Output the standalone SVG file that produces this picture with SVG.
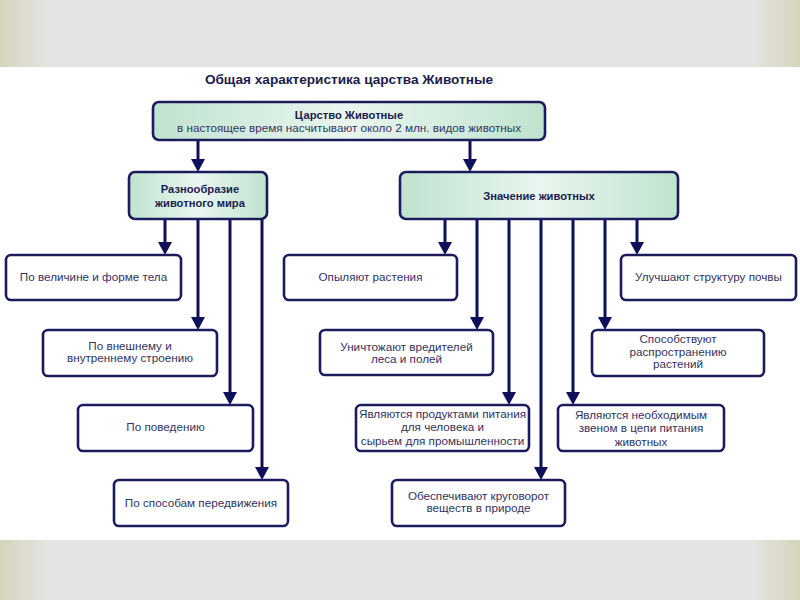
<svg xmlns="http://www.w3.org/2000/svg" width="800" height="600" viewBox="0 0 800 600">
<defs>
<linearGradient id="bg" x1="0" y1="0" x2="1" y2="0">
<stop offset="0" stop-color="#d6d4bd"/>
<stop offset="0.06" stop-color="#e4e4e2"/>
<stop offset="0.94" stop-color="#e4e4e2"/>
<stop offset="1" stop-color="#d6d4bd"/>
</linearGradient>
<linearGradient id="green" x1="0" y1="0" x2="1" y2="0">
<stop offset="0" stop-color="#bfe3cf"/>
<stop offset="0.5" stop-color="#e9f6ef"/>
<stop offset="1" stop-color="#bfe3cf"/>
</linearGradient>
<marker id="arr" viewBox="0 0 13 14" refX="2" refY="7" markerWidth="13" markerHeight="14" markerUnits="userSpaceOnUse" orient="auto">
<path d="M0,0 L13,7 L0,14 z" fill="#10105a"/>
</marker>
<style>
.box{fill:#ffffff;stroke:#1c1c5c;stroke-width:2.6}
.gbox{fill:url(#green);stroke:#1c1c5c;stroke-width:2.6}
.t{font-family:"Liberation Sans",Arial,sans-serif;font-size:11.7px;fill:#33335f;text-anchor:middle}
.b{font-weight:bold;fill:#1c1c4e;font-size:11.2px}
.c line{stroke:#10105a;stroke-width:3}
.c line.a{marker-end:url(#arr)}
</style>
</defs>
<rect x="0" y="0" width="800" height="600" fill="#ffffff"/>
<rect x="0" y="0" width="800" height="67" fill="url(#bg)"/>
<rect x="0" y="540" width="800" height="60" fill="url(#bg)"/>

<text id="title" x="349" y="84" class="t b" style="font-size:13.6px">Общая характеристика царства Животные</text>

<g id="connectors" class="c">
<line class="a" x1="198" y1="140" x2="198" y2="161"/>
<line class="a" x1="470" y1="140" x2="470" y2="161"/>
<line class="a" x1="165" y1="219" x2="165" y2="244"/>
<line class="a" x1="198" y1="219" x2="198" y2="319"/>
<line class="a" x1="230" y1="219" x2="230" y2="394"/>
<line class="a" x1="262" y1="219" x2="262" y2="469"/>
<line class="a" x1="445" y1="219" x2="445" y2="244"/>
<line class="a" x1="477" y1="219" x2="477" y2="319"/>
<line class="a" x1="509" y1="219" x2="509" y2="394"/>
<line class="a" x1="541" y1="219" x2="541" y2="469"/>
<line class="a" x1="573" y1="219" x2="573" y2="394"/>
<line class="a" x1="605" y1="219" x2="605" y2="319"/>
<line class="a" x1="637" y1="219" x2="637" y2="244"/>
</g>

<g id="root">
<rect class="gbox" x="153" y="102" width="392" height="38" rx="6"/>
<text class="t b" x="349" y="119">Царство Животные</text>
<text class="t" x="349" y="132">в настоящее время насчитывают около 2 млн. видов животных</text>
</g>

<g id="diversity">
<rect class="gbox" x="129" y="172" width="138" height="47" rx="6"/>
<text class="t b" x="200" y="193">Разнообразие</text>
<text class="t b" x="200" y="207">животного мира</text>
</g>

<g id="importance">
<rect class="gbox" x="400" y="172" width="278" height="47" rx="6"/>
<text class="t b" x="539" y="200">Значение животных</text>
</g>

<g id="d1">
<rect class="box" x="6" y="255" width="175" height="45" rx="5"/>
<text class="t" x="93.5" y="281">По величине и форме тела</text>
</g>
<g id="d2">
<rect class="box" x="43" y="330" width="174" height="46" rx="5"/>
<text class="t" x="130" y="350">По внешнему и</text>
<text class="t" x="130" y="362">внутреннему строению</text>
</g>
<g id="d3">
<rect class="box" x="78" y="405" width="175" height="46" rx="5"/>
<text class="t" x="165.5" y="431">По поведению</text>
</g>
<g id="d4">
<rect class="box" x="114" y="480" width="174" height="46" rx="5"/>
<text class="t" x="201" y="507">По способам передвижения</text>
</g>

<g id="i1">
<rect class="box" x="284" y="255" width="173" height="45" rx="5"/>
<text class="t" x="370.5" y="281">Опыляют растения</text>
</g>
<g id="i2">
<rect class="box" x="320" y="330" width="173" height="45" rx="5"/>
<text class="t" x="406.5" y="351">Уничтожают вредителей</text>
<text class="t" x="406.5" y="363">леса и полей</text>
</g>
<g id="i3">
<rect class="box" x="356" y="405" width="173" height="46" rx="5"/>
<text class="t" x="442.5" y="418">Являются продуктами питания</text>
<text class="t" x="442.5" y="431">для человека и</text>
<text class="t" x="442.5" y="445">сырьем для промышленности</text>
</g>
<g id="i4">
<rect class="box" x="392" y="480" width="173" height="46" rx="5"/>
<text class="t" x="478.5" y="500">Обеспечивают круговорот</text>
<text class="t" x="478.5" y="512">веществ в природе</text>
</g>
<g id="i5">
<rect class="box" x="558" y="405" width="166" height="46" rx="5"/>
<text class="t" x="641" y="419">Являются необходимым</text>
<text class="t" x="641" y="432">звеном в цепи питания</text>
<text class="t" x="641" y="446">животных</text>
</g>
<g id="i6">
<rect class="box" x="592" y="330" width="172" height="46" rx="5"/>
<text class="t" x="678" y="343">Способствуют</text>
<text class="t" x="678" y="356">распространению</text>
<text class="t" x="678" y="368">растений</text>
</g>
<g id="i7">
<rect class="box" x="621" y="255" width="175" height="45" rx="5"/>
<text class="t" x="708.5" y="281">Улучшают структуру почвы</text>
</g>
</svg>
